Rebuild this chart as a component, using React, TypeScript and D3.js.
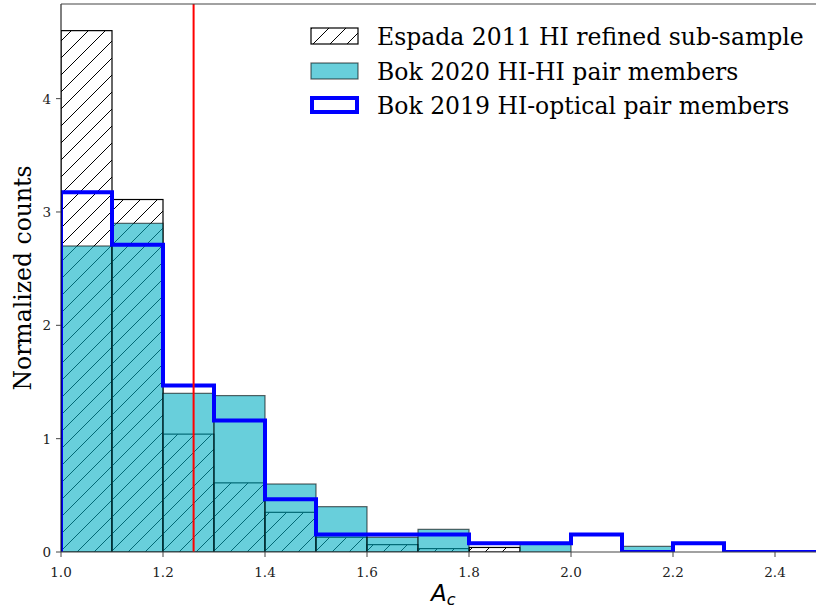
import React from "react";
import * as d3 from "d3";

const binEdges = [1.0, 1.1, 1.2, 1.3, 1.4, 1.5, 1.6, 1.7, 1.8, 1.9, 2.0, 2.1, 2.2, 2.3, 2.4, 2.5];
const espada2011 = [4.6, 3.11, 1.04, 0.61, 0.35, 0.13, 0.065, 0.03, 0.04, 0, 0, 0, 0, 0, 0];
const bok2020 = [2.7, 2.9, 1.4, 1.38, 0.6, 0.4, 0.13, 0.2, 0, 0.07, 0, 0.05, 0, 0, 0];
const bok2019 = [3.175, 2.71, 1.47, 1.16, 0.465, 0.155, 0.155, 0.155, 0.077, 0.077, 0.155, 0, 0.077, 0, 0];
const redLineX = 1.26;
const xTicks = [1.0, 1.2, 1.4, 1.6, 1.8, 2.0, 2.2, 2.4];
const yTicks = [0, 1, 2, 3, 4];
const legendLabels = [
  "Espada 2011 HI refined sub-sample",
  "Bok 2020 HI-HI pair members",
  "Bok 2019 HI-optical pair members",
];

const W = 816;
const H = 608;
const M = { left: 61, top: 4, right: 826, bottom: 552 };
const SERIF = "'DejaVu Serif', serif";
const CYAN = "rgb(3,175,195)";
const CYAN_A = 0.6;

export default function App() {
  const x = d3.scaleLinear().domain([1.0, 2.5]).range([M.left, M.right]);
  const y = d3.scaleLinear().domain([0, 4.835]).range([M.bottom, M.top]);

  const bins = binEdges.slice(0, -1).map((e, i) => ({ x0: e, x1: binEdges[i + 1], i }));

  const stepPts: [number, number][] = [[binEdges[0], 0]];
  bins.forEach((b) => {
    stepPts.push([b.x0, bok2019[b.i]]);
    stepPts.push([b.x1, bok2019[b.i]]);
  });
  stepPts.push([binEdges[binEdges.length - 1], 0]);
  const stepLine = d3
    .line<[number, number]>()
    .x((d) => x(d[0]))
    .y((d) => y(d[1]));

  const legendRows = [36, 71, 105];

  return (
    <svg
      width={W}
      height={H}
      style={{ position: "absolute", left: 0, top: 0, background: "#fff" }}
    >
      <defs>
        <pattern id="hatch" patternUnits="userSpaceOnUse" width={17} height={17}>
          <path d="M-1,18 L18,-1 M-9,9 L9,-9 M8,26 L26,8" stroke="#000" strokeWidth={1} />
        </pattern>
        <clipPath id="plotclip">
          <rect x={M.left} y={M.top} width={M.right - M.left} height={M.bottom - M.top} />
        </clipPath>
      </defs>
      <rect x={0} y={0} width={W} height={H} fill="#fff" />

      <g clipPath="url(#plotclip)">
        {bins.map((b) =>
          espada2011[b.i] > 0 ? (
            <rect
              key={"e" + b.i}
              x={x(b.x0)}
              y={y(espada2011[b.i])}
              width={x(b.x1) - x(b.x0)}
              height={y(0) - y(espada2011[b.i])}
              fill="url(#hatch)"
              stroke="#000"
              strokeWidth={1.2}
            />
          ) : null
        )}
        {bins.map((b) =>
          bok2020[b.i] > 0 ? (
            <rect
              key={"c" + b.i}
              x={x(b.x0)}
              y={y(bok2020[b.i])}
              width={x(b.x1) - x(b.x0)}
              height={y(0) - y(bok2020[b.i])}
              fill={CYAN}
              fillOpacity={CYAN_A}
              stroke="#000"
              strokeOpacity={CYAN_A}
              strokeWidth={1.2}
            />
          ) : null
        )}
        <path d={stepLine(stepPts) || ""} fill="none" stroke="#0000ff" strokeWidth={4} strokeLinejoin="miter" />
        <line x1={x(redLineX)} x2={x(redLineX)} y1={M.top} y2={M.bottom} stroke="#ff0000" strokeWidth={2} />
      </g>

      <line x1={M.left} x2={M.left} y1={M.top} y2={M.bottom} stroke="#000" strokeWidth={1} />
      <line x1={M.left} x2={W} y1={M.bottom} y2={M.bottom} stroke="#444" strokeWidth={1.2} />
      <line x1={M.left} x2={W} y1={M.top} y2={M.top} stroke="#444" strokeWidth={1.2} />

      {xTicks.map((t) => (
        <g key={"xt" + t}>
          <line x1={x(t)} x2={x(t)} y1={M.bottom} y2={M.bottom + 5} stroke="#444" strokeWidth={1} />
          <text x={x(t)} y={M.bottom + 25} textAnchor="middle" fontFamily={SERIF} fontSize={13.5} fill="#222">
            {t.toFixed(1)}
          </text>
        </g>
      ))}
      {yTicks.map((t) => (
        <g key={"yt" + t}>
          <line x1={M.left - 5} x2={M.left} y1={y(t)} y2={y(t)} stroke="#444" strokeWidth={1} />
          <text x={M.left - 10} y={y(t) + 5} textAnchor="end" fontFamily={SERIF} fontSize={13.5} fill="#222">
            {t}
          </text>
        </g>
      ))}

      <text
        transform={`translate(31,${(M.top + M.bottom) / 2}) rotate(-90)`}
        textAnchor="middle"
        fontFamily={SERIF}
        fontSize={23.5}
        fill="#000"
      >
        Normalized counts
      </text>
      <text x={431} y={601} fontFamily="'DejaVu Sans', sans-serif" fontSize={23} fontStyle="italic" fill="#000">
        A
        <tspan fontSize={16} dy={4}>c</tspan>
      </text>

      <g>
        <rect x={311} y={legendRows[0] - 8} width={47} height={16} fill="url(#hatch)" stroke="#000" strokeWidth={1.2} />
        <rect
          x={311}
          y={legendRows[1] - 8}
          width={47}
          height={16}
          fill={CYAN}
          fillOpacity={CYAN_A}
          stroke="#000"
          strokeOpacity={CYAN_A}
          strokeWidth={1.2}
        />
        <rect x={312} y={legendRows[2] - 7} width={45} height={14} fill="#fff" stroke="#0000ff" strokeWidth={4} />
        {legendLabels.map((l, i) => (
          <text key={l} x={377} y={legendRows[i] + 8.5} fontFamily={SERIF} fontSize={23.5} fill="#000">
            {l}
          </text>
        ))}
      </g>
    </svg>
  );
}
